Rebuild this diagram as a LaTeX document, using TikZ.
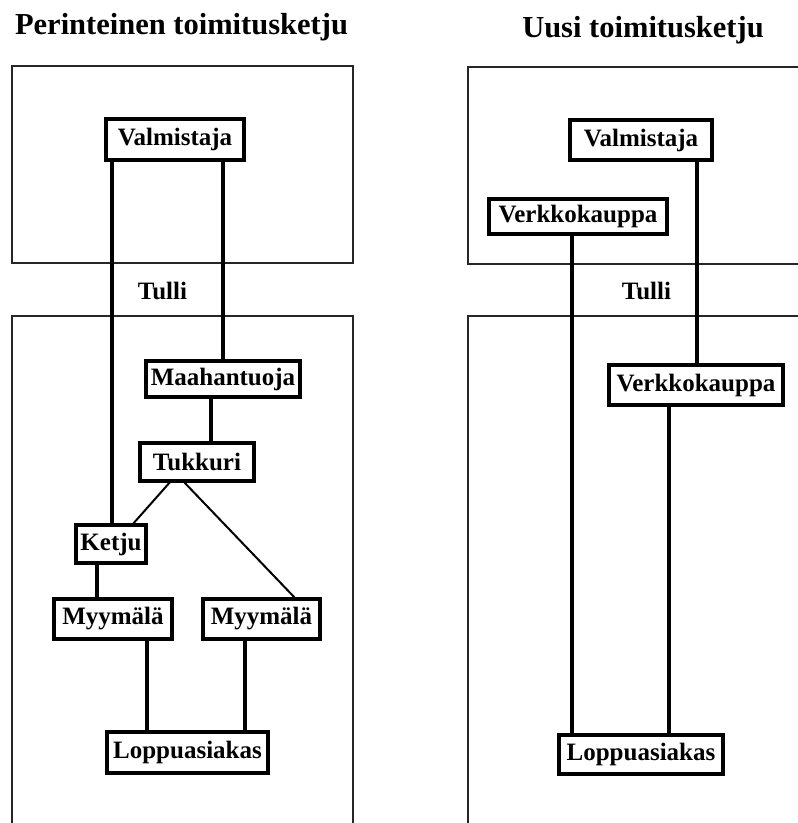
\documentclass[tikz,border=0pt]{standalone}
\usepackage{fontspec}
\setmainfont{Liberation Serif}
\begin{document}
\begin{tikzpicture}[x=1pt,y=-1pt,
  nd/.style={draw=black,line width=4pt,fill=white,inner sep=0pt,
    font=\fontsize{25}{27}\selectfont\bfseries},
  conn/.style={line width=3.4pt},
  diag/.style={line width=2pt},
  region/.style={line width=1.5pt,draw=black!85},
  ttl/.style={font=\fontsize{30.5}{32}\selectfont\bfseries,inner sep=0pt},
  tulli/.style={font=\fontsize{25}{27}\selectfont\bfseries,inner sep=0pt},
  s/.style={yshift=2pt}, n/.style={yshift=-2pt}]
\useasboundingbox (0,0) rectangle (798,823);
% regions
\draw[region] (12,66) rectangle (353,263);
\draw[region] (12,830) -- (12,316) -- (353,316) -- (353,830);
\draw[region] (800,67) -- (468,67) -- (468,264) -- (800,264);
\draw[region] (800,316) -- (468,316) -- (468,830);
% titles
\node[ttl] (t1) at (181.5,27) {Perinteinen toimitusketju};
\node[ttl] (t2) at (643,30) {Uusi toimitusketju};
\node[tulli] (tu1) at (162.5,291) {Tulli};
\node[tulli] (tu2) at (646.5,291) {Tulli};
% left nodes
\node[nd,minimum width=138pt,minimum height=41pt] (valL) at (175,139.5) {Valmistaja};
\node[nd,minimum width=154pt,minimum height=36pt] (maah) at (223,379) {Maahantuoja};
\node[nd,minimum width=114pt,minimum height=38pt] (tukk) at (197,462) {Tukkuri};
\node[nd,minimum width=70pt,minimum height=38pt] (ketju) at (111,544) {Ketju};
\node[nd,minimum width=118pt,minimum height=40pt] (myy1) at (113,619) {Myymälä};
\node[nd,minimum width=117pt,minimum height=40pt] (myy2) at (261.5,619) {Myymälä};
\node[nd,minimum width=161pt,minimum height=41pt] (lopL) at (187.5,752.5) {Loppuasiakas};
% right nodes
\node[nd,minimum width=142pt,minimum height=40pt] (valR) at (641,140) {Valmistaja};
\node[nd,minimum width=178pt,minimum height=35pt] (verk1) at (578,216.5) {Verkkokauppa};
\node[nd,minimum width=174pt,minimum height=40pt] (verk2) at (696,385) {Verkkokauppa};
\node[nd,minimum width=164pt,minimum height=39pt] (lopR) at (641,754.5) {Loppuasiakas};
% left connectors
\draw[conn] ([xshift=-63pt,s]valL.south) -- ([xshift=1pt,n]ketju.north);
\draw[conn] ([xshift=48pt,s]valL.south) -- ([n]maah.north);
\draw[conn] ([xshift=-12pt,s]maah.south) -- ([xshift=14pt,n]tukk.north);
\draw[diag] ([xshift=-26pt,s]tukk.south) -- ([xshift=21pt,n]ketju.north);
\draw[diag] ([xshift=-14pt,s]tukk.south) -- ([xshift=34.5pt,n]myy2.north);
\draw[conn] ([xshift=-14pt,s]ketju.south) -- ([xshift=-16pt,n]myy1.north);
\draw[conn] ([xshift=34pt,s]myy1.south) -- ([xshift=-40.5pt,n]lopL.north);
\draw[conn] ([xshift=-16.5pt,s]myy2.south) -- ([xshift=57.5pt,n]lopL.north);
% right connectors
\draw[conn] ([xshift=56pt,s]valR.south) -- ([xshift=1pt,n]verk2.north);
\draw[conn] ([xshift=-6pt,s]verk1.south) -- ([xshift=-69pt,n]lopR.north);
\draw[conn] ([xshift=-27pt,s]verk2.south) -- ([xshift=28pt,n]lopR.north);
\end{tikzpicture}
\end{document}
